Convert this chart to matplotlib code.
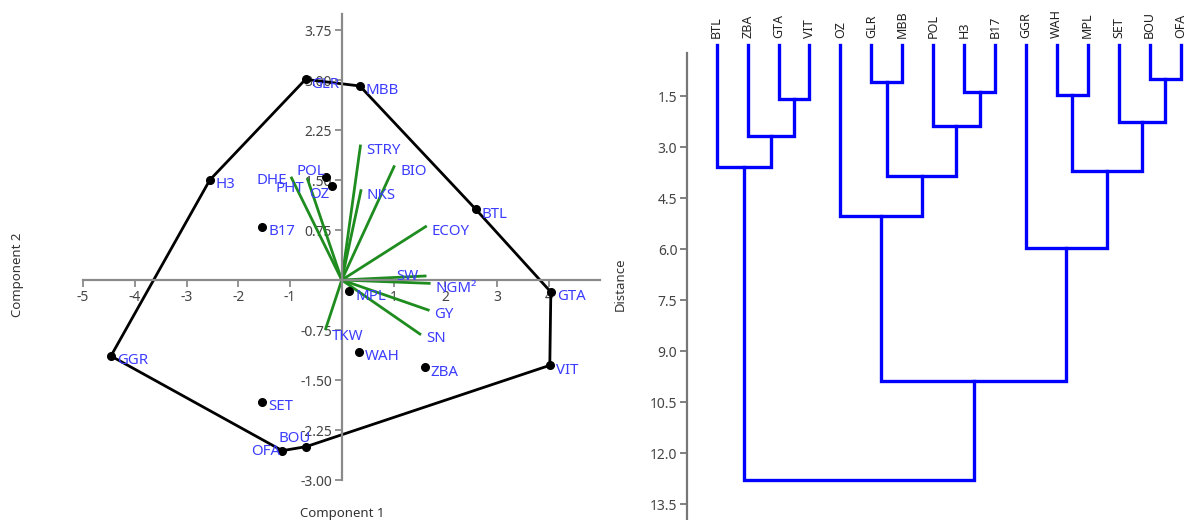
import matplotlib
matplotlib.use("Agg")
import matplotlib.pyplot as plt
import numpy as np

plt.rcParams['font.family'] = ['Noto Sans', 'DejaVu Sans']
plt.rcParams['axes.unicode_minus'] = False

# ---------------- PCA biplot data ----------------
geno_names = ["GLR", "MBB", "H3", "POL", "OZ", "B17", "BTL", "GTA", "MPL",
              "WAH", "ZBA", "VIT", "GGR", "SET", "OFA", "BOU"]
geno_pc1 = [-0.70, 0.35, -2.55, -0.31, -0.18, -1.54, 2.59, 4.04, 0.14,
            0.33, 1.60, 4.02, -4.46, -1.54, -1.15, -0.69]
geno_pc2 = [3.01, 2.91, 1.50, 1.54, 1.41, 0.80, 1.06, -0.18, -0.17,
            -1.08, -1.31, -1.28, -1.14, -1.83, -2.56, -2.50]

hull_order = ["GLR", "MBB", "BTL", "GTA", "VIT", "BOU", "OFA", "GGR", "H3", "GLR"]

var_names = ["STRY", "BIO", "NKS", "ECOY", "DHE", "PHT", "SW", "NGM²", "GY", "SN", "TKW"]
var_pc1 = [0.36, 1.01, 0.37, 1.62, -0.97, -0.66, 1.61, 1.69, 1.67, 1.51, -0.31]
var_pc2 = [2.01, 1.70, 1.34, 0.80, 1.53, 1.51, 0.06, -0.05, -0.45, -0.81, -0.73]

x_ticks = [-5, -4, -3, -2, -1, 1, 2, 3, 4]
y_ticks = [-3.00, -2.25, -1.50, -0.75, 0.75, 1.50, 2.25, 3.00, 3.75]

# ---------------- Dendrogram data ----------------
leaves = ["BTL", "ZBA", "GTA", "VIT", "OZ", "GLR", "MBB", "POL", "H3", "B17",
          "GGR", "WAH", "MPL", "SET", "BOU", "OFA"]
merge_a = ["GTA", "ZBA", "BTL", "GLR", "H3", "POL", "n3", "OZ", "WAH", "BOU",
           "SET", "n8", "GGR", "n7", "n2"]
merge_b = ["VIT", "n0", "n1", "MBB", "B17", "n4", "n5", "n6", "MPL", "OFA",
           "n9", "n10", "n11", "n12", "n13"]
merge_h = [1.59, 2.68, 3.58, 1.09, 1.38, 2.37, 3.84, 5.03, 1.47, 1.01,
           2.27, 3.70, 5.98, 9.88, 12.79]
d_ticks = [1.5, 3.0, 4.5, 6.0, 7.5, 9.0, 10.5, 12.0, 13.5]

# ---------------- styles ----------------
LBL = "#3c3cff"
GRN = "#1e8c1e"
AXC = "#8a8a8a"
TXT = "#444444"

label_style = {  # name: (dx px, dy px, ha)
    "POL": (-1, 6, "right"),
    "OZ": (-3, -9, "right"),
    "BOU": (-11, 8, "center"),
    "OFA": (-2, -1, "right"),
    "SW": (-7, -1, "right"),
    "DHE": (-5, -2, "right"),
    "PHT": (-3, -9, "right"),
    "TKW": (6, -8, "left"),
}
default_style = (6, -5, "left")

W, H = 1187, 520
fig = plt.figure(figsize=(W / 100, H / 100), dpi=100)

# ---------------- left: biplot ----------------
ax = fig.add_axes([83 / W, 40 / H, (600 - 83) / W, (480 - 14) / H])
ax.set_xlim(-5.0, 4.99)
ax.set_ylim(-3.0, 3.99)
for s in ["top", "right"]:
    ax.spines[s].set_visible(False)
ax.spines["left"].set_position(("data", 0))
ax.spines["bottom"].set_position(("data", 0))
for s in ["left", "bottom"]:
    ax.spines[s].set_color(AXC)
    ax.spines[s].set_linewidth(1.6)
ax.set_xticks(x_ticks)
ax.set_xticklabels([f"{t:d}" for t in x_ticks])
ax.set_yticks(y_ticks)
ax.set_yticklabels([f"{t:.2f}" for t in y_ticks])
ax.tick_params(direction="out", length=5, width=1.3, color=AXC,
               labelcolor=TXT, labelsize=10, pad=2)

gx = dict(zip(geno_names, geno_pc1))
gy = dict(zip(geno_names, geno_pc2))
ax.plot([gx[n] for n in hull_order], [gy[n] for n in hull_order],
        color="black", lw=2, zorder=2, clip_on=False)
ax.plot(geno_pc1, geno_pc2, "o", color="black", ms=5.5, zorder=3, clip_on=False)
for vx, vy in zip(var_pc1, var_pc2):
    ax.plot([0, vx], [0, vy], color=GRN, lw=2, zorder=2)

def put_label(name, x, y):
    dx, dy, ha = label_style.get(name, default_style)
    ax.annotate(name, (x, y), xytext=(dx, dy), textcoords="offset pixels",
                ha=ha, va="center", color=LBL, fontsize=10.8, zorder=5,
                annotation_clip=False)

for n, x, y in zip(geno_names, geno_pc1, geno_pc2):
    put_label(n, x, y)
for n, x, y in zip(var_names, var_pc1, var_pc2):
    put_label(n, x, y)

fig.text(342 / W, 1 - 514 / H, "Component 1", ha="center", va="center",
         fontsize=9.5, color="#333333")
fig.text(18 / W, 1 - 275 / H, "Component 2", ha="center", va="center",
         rotation=90, fontsize=9.5, color="#333333")

# ---------------- right: dendrogram ----------------
ax2 = fig.add_axes([687 / W, 0, (W - 687) / W, (520 - 45) / H])
ax2.set_xlim(-0.96, 15.21)
ax2.set_ylim(13.97, 0)
for s in ["top", "right", "bottom"]:
    ax2.spines[s].set_visible(False)
ax2.spines["left"].set_color("#777777")
ax2.spines["left"].set_linewidth(1.6)
ax2.spines["left"].set_bounds(0.24, 13.97)
ax2.set_xticks([])
ax2.set_yticks(d_ticks)
ax2.set_yticklabels([f"{t:.1f}" for t in d_ticks])
ax2.tick_params(axis="y", direction="out", length=5, width=1.3, color="#777777",
                labelcolor=TXT, labelsize=10, pad=2)

pos = {n: float(i) for i, n in enumerate(leaves)}
hgt = {n: 0.0 for n in leaves}
for k, (a, b, h) in enumerate(zip(merge_a, merge_b, merge_h)):
    xa, xb = pos[a], pos[b]
    ax2.plot([xa, xa, xb, xb], [hgt[a], h, h, hgt[b]], color="#0000ff",
             lw=2.4, solid_joinstyle="miter", clip_on=False)
    pos[f"n{k}"] = (xa + xb) / 2
    hgt[f"n{k}"] = h

for i, n in enumerate(leaves):
    ax2.annotate(n, (i, 0), xytext=(0, 7), textcoords="offset pixels",
                 rotation=90, ha="center", va="bottom", fontsize=9,
                 color="#222222", annotation_clip=False)

fig.text(620 / W, 1 - 284 / H, "Distance", ha="center", va="center",
         rotation=90, fontsize=9.5, color="#333333")

fig.savefig("out.png", dpi=100)
